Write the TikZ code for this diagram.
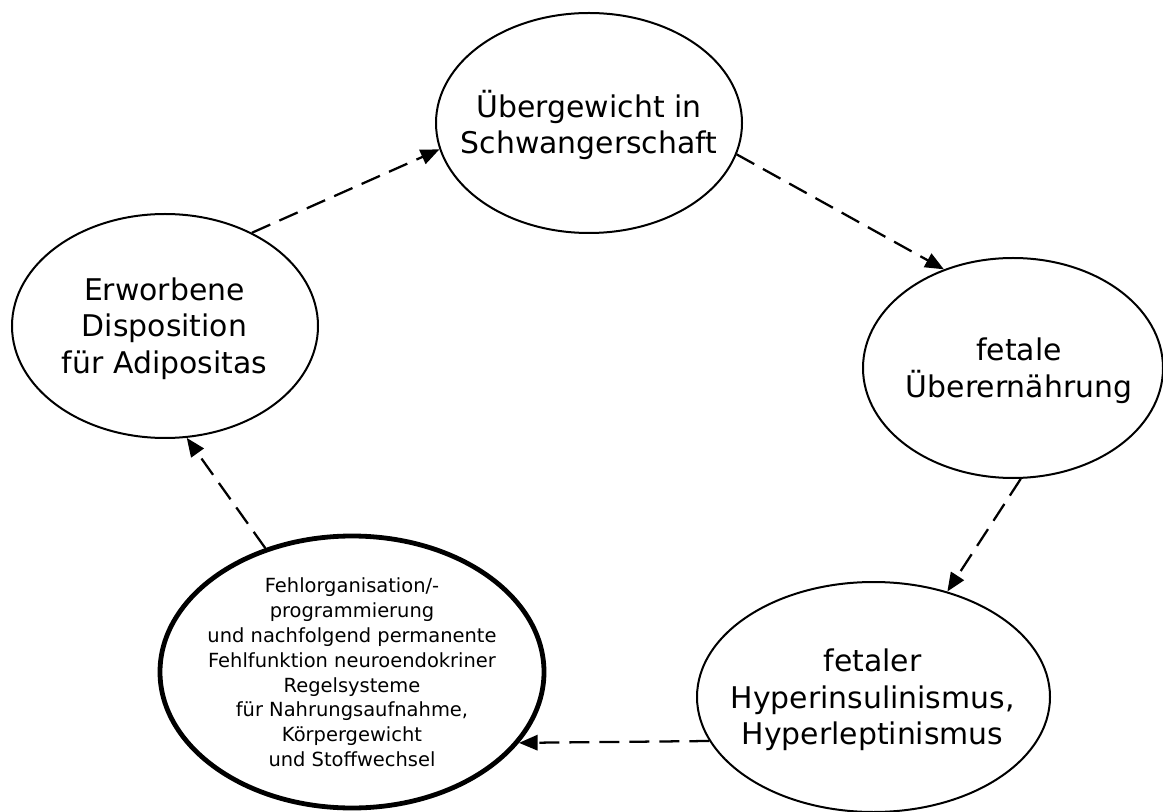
\documentclass[tikz,border=0pt]{standalone}
\usepackage{fontspec}
\setmainfont{DejaVu Sans}
\usetikzlibrary{shapes.geometric,arrows.meta}
\begin{document}
\begin{tikzpicture}[x=0.75pt,y=-0.75pt,
  ell/.style={ellipse, draw=black, line width=1.5pt, inner sep=0pt},
  boldell/.style={ell, line width=3.6pt},
  bigtxt/.style={align=center, font=\fontsize{22.4}{27.4}\selectfont, inner sep=0pt},
  smalltxt/.style={align=center, font=\fontsize{14.6}{18.6}\selectfont, inner sep=0pt},
  conn/.style={-{Triangle[length=14pt,width=11.5pt]}, line width=1.7pt, dash pattern=on 15pt off 7.5pt}]
\useasboundingbox (0,0) rectangle (1163,812);
\fill[white] (0,0) rectangle (1163,812);

\node[ell, minimum width=229.5pt, minimum height=165pt] (top) at (589,123) {};
\node[ell, minimum width=229.5pt, minimum height=168pt] (left) at (165,326) {};
\node[ell, minimum width=225pt, minimum height=165pt] (right) at (1013,368) {};
\node[ell, minimum width=264.75pt, minimum height=172.5pt] (br) at (873.5,697) {};
\node[boldell, minimum width=288pt, minimum height=204pt] (bold) at (352,672) {};

\node[bigtxt] (ttop) at (589,125) {Übergewicht in\\Schwangerschaft};
\node[bigtxt] (tleft) at (164.5,328.5) {Erworbene\\Disposition\\für Adipositas};
\node[bigtxt] (tright) at (1019,371) {fetale\\Überernährung};
\node[bigtxt] (tbr) at (872.5,700) {fetaler\\Hyperinsulinismus,\\Hyperleptinismus};
\node[smalltxt] (tbold) at (352,672.5) {Fehlorganisation/-\\programmierung\\und nachfolgend permanente\\Fehlfunktion neuroendokriner\\Regelsysteme\\für Nahrungsaufnahme,\\Körpergewicht\\und Stoffwechsel};

\draw[conn] (left.47.9) -- (top.190.3);
\draw[conn] (top.348.8) -- (right.125.4);
\draw[conn] (right.274.7) -- (br.55.2);
\draw[conn] (br.195.4) -- (bold.337.0);
\draw[conn] (bold.125.4) -- (left.281.4);
\end{tikzpicture}
\end{document}
